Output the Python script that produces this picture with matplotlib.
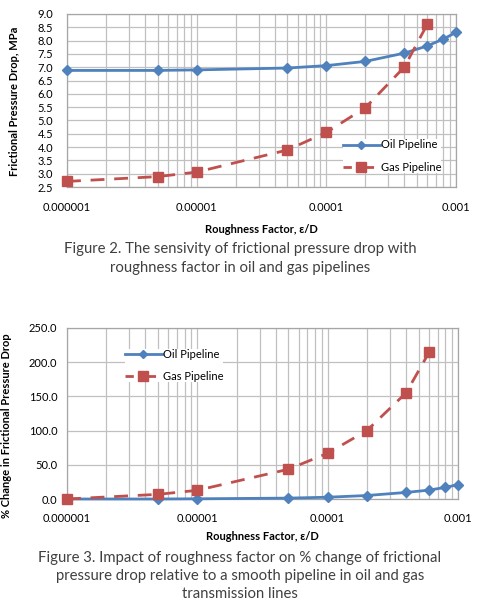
import matplotlib
matplotlib.use("Agg")
import matplotlib.pyplot as plt
from matplotlib.ticker import FixedLocator, LogLocator, NullFormatter, FuncFormatter

plt.rcParams['font.family'] = ['Lato', 'DejaVu Sans']

# ---------------- data ----------------
roughness_oil = [1e-6, 5e-6, 1e-5, 5e-5, 1e-4, 2e-4, 4e-4, 6e-4, 8e-4, 1e-3]
roughness_gas = [1e-6, 5e-6, 1e-5, 5e-5, 1e-4, 2e-4, 4e-4, 6e-4]

oil_dp = [6.88, 6.88, 6.90, 6.97, 7.06, 7.22, 7.53, 7.80, 8.06, 8.31]
gas_dp = [2.71, 2.89, 3.06, 3.89, 4.55, 5.48, 7.01, 8.61]

oil_pct = [0.0, 0.0, 0.3, 1.3, 2.6, 5.1, 9.6, 13.0, 17.0, 21.0]
gas_pct = [0.0, 6.8, 12.7, 43.5, 66.9, 100.1, 155.3, 214.4]

x_ticks = [1e-6, 1e-5, 1e-4, 1e-3]
x_tick_labels = ['0.000001', '0.00001', '0.0001', '0.001']

series_names = ['Oil Pipeline', 'Gas Pipeline']
xlabel = 'Roughness Factor, ε/D'
ylabel_top = 'Frictional Pressure Drop, MPa'
ylabel_bot = '% Change in Frictional Pressure Drop'
caption_top = ['Figure 2. The sensivity of frictional pressure drop with',
               'roughness factor in oil and gas pipelines']
caption_bot = ['Figure 3. Impact of roughness factor on % change of frictional',
               'pressure drop relative to a smooth pipeline in oil and gas',
               'transmission lines']

BLUE = '#4F81BD'
RED = '#C0504D'
GRID = '#c0c0c0'
SPINE = '#a6a6a6'

W, H = 480, 605
fig = plt.figure(figsize=(W / 100, H / 100), dpi=100)


def px_axes(l, t, r, b):
    return fig.add_axes([l / W, 1 - b / H, (r - l) / W, (b - t) / H])


def style(ax, xpad, ypad):
    ax.set_xscale('log')
    ax.set_xlim(1e-6, 1e-3)
    ax.xaxis.set_major_locator(FixedLocator(x_ticks))
    ax.set_xticklabels(x_tick_labels)
    ax.xaxis.set_minor_locator(LogLocator(base=10, subs=range(2, 10)))
    ax.xaxis.set_minor_formatter(NullFormatter())
    ax.grid(True, which='both', color=GRID, lw=0.9)
    ax.set_axisbelow(True)
    for s in ax.spines.values():
        s.set_color(SPINE)
        s.set_linewidth(0.9)
    ax.tick_params(axis='both', which='both', length=0, labelsize=8, colors='black')
    ax.tick_params(axis='x', pad=xpad)
    ax.tick_params(axis='y', pad=ypad)
    ax.yaxis.set_major_formatter(FuncFormatter(lambda v, p: f'{v:.1f}'))


def plot_series(ax, xo, yo, xg, yg):
    ax.plot(xo, yo, color=BLUE, lw=2, marker='D', ms=5, mfc=BLUE, mec=BLUE,
            label=series_names[0], clip_on=False, zorder=3)
    ax.plot(xg, yg, color=RED, lw=2, ls=(0, (5, 3.5)), marker='s', ms=7.5,
            mfc=RED, mec=RED, label=series_names[1], clip_on=False, zorder=4)


def add_legend(ax, anchor):
    leg = ax.legend(loc='upper left', bbox_to_anchor=anchor, fontsize=8,
                    frameon=True, facecolor='white', edgecolor='none', framealpha=1,
                    borderpad=0, borderaxespad=0, handlelength=3.3, handletextpad=0.1,
                    labelspacing=1.05)
    hl = leg.get_lines()
    hl[0].set_markersize(4.5)
    hl[1].set_markersize(7)
    hl[1].set_linestyle((0, (3, 5)))
    return leg


# ---------- top chart ----------
ax1 = px_axes(67, 14, 456, 187)
plot_series(ax1, roughness_oil, oil_dp, roughness_gas, gas_dp)
style(ax1, xpad=11, ypad=10)
ax1.set_ylim(2.5, 9.0)
ax1.set_yticks([2.5 + 0.5 * i for i in range(14)])
ax1.set_xlabel(xlabel, fontsize=8, fontweight='bold')
ax1.xaxis.set_label_coords(0.5, -0.214)
ax1.set_ylabel(ylabel_top, fontsize=8, fontweight='bold')
ax1.yaxis.set_label_coords(-0.121, 0.497)
add_legend(ax1, (0.7095, 0.2746))

# ---------- bottom chart ----------
ax2 = px_axes(67, 328, 458, 499)
plot_series(ax2, roughness_oil, oil_pct, roughness_gas, gas_pct)
style(ax2, xpad=10, ypad=7)
ax2.set_ylim(0, 250)
ax2.set_yticks([0, 50, 100, 150, 200, 250])
ax2.set_xlabel(xlabel, fontsize=8, fontweight='bold')
ax2.xaxis.set_label_coords(0.5, -0.187)
ax2.set_ylabel(ylabel_bot, fontsize=8, fontweight='bold')
ax2.yaxis.set_label_coords(-0.141, 0.43)
add_legend(ax2, (0.148, 0.880))

# ---------- captions ----------
for i, line in enumerate(caption_top):
    fig.text(240 / W, 1 - (249 + 19 * i) / H, line, ha='center', va='center',
             fontsize=10.7, color='#404040')
for i, line in enumerate(caption_bot):
    fig.text(240 / W, 1 - (558 + 18 * i) / H, line, ha='center', va='center',
             fontsize=10.7, color='#404040')

fig.savefig('out.png', dpi=100, facecolor='white')
